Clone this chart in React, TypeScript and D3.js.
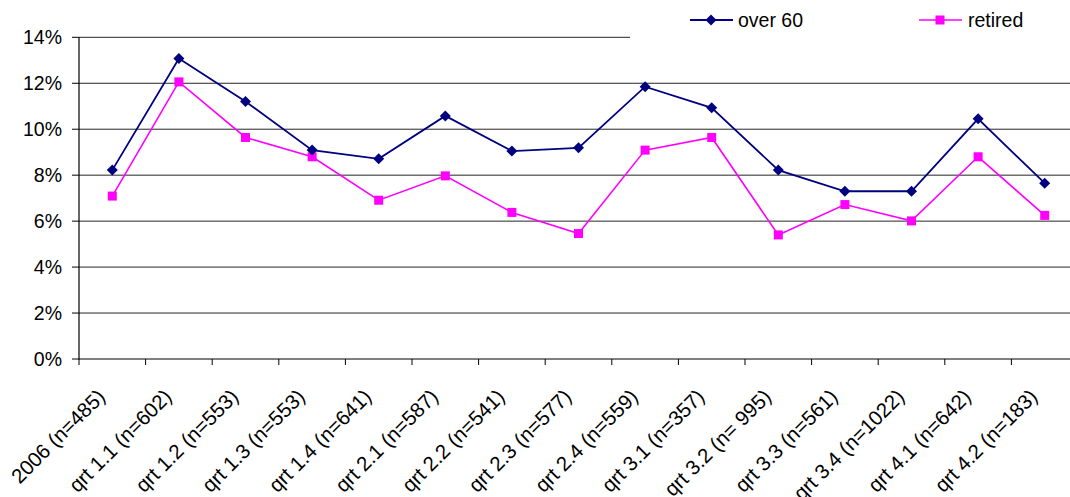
import React from "react";
import * as d3 from "d3";

const categories = [
  "2006 (n=485)",
  "qrt 1.1 (n=602)",
  "qrt 1.2 (n=553)",
  "qrt 1.3 (n=553)",
  "qrt 1.4 (n=641)",
  "qrt 2.1 (n=587)",
  "qrt 2.2 (n=541)",
  "qrt 2.3 (n=577)",
  "qrt 2.4 (n=559)",
  "qrt 3.1 (n=357)",
  "qrt 3.2 (n= 995)",
  "qrt 3.3 (n=561)",
  "qrt 3.4 (n=1022)",
  "qrt 4.1 (n=642)",
  "qrt 4.2 (n=183)",
];
const over60 = [8.22, 13.08, 11.21, 9.09, 8.71, 10.58, 9.05, 9.19, 11.85, 10.93, 8.22, 7.3, 7.3, 10.45, 7.65];
const retired = [7.09, 12.06, 9.64, 8.8, 6.91, 7.97, 6.38, 5.46, 9.09, 9.64, 5.4, 6.72, 6.01, 8.8, 6.25];
const yTicks = [0, 2, 4, 6, 8, 10, 12, 14];
const seriesNames = ["over 60", "retired"];

const W = 1070;
const H = 497;
const FONT = "'Liberation Sans', Arial, sans-serif";
const NAVY = "#000080";
const MAGENTA = "#FF00FF";

export default function App() {
  const x = d3.scaleBand<string>().domain(categories).range([79, 1078]);
  const y = d3.scaleLinear().domain([0, 14]).range([359, 37.3]);
  const cx = (i: number) => (x(categories[i]) as number) + x.bandwidth() / 2;
  const line = d3
    .line<number>()
    .x((_, i) => cx(i))
    .y((d) => y(d));
  const diamond = (px: number, py: number, r: number) =>
    `M${px},${py - r}L${px + r},${py}L${px},${py + r}L${px - r},${py}Z`;
  const fs = 19.5;
  const fsx = 20.5;

  return (
    <svg
      width={W}
      height={H}
      style={{ position: "absolute", left: 0, top: 0, background: "#fff" }}
      fontFamily={FONT}
    >
      <rect x={0} y={0} width={W} height={H} fill="#fff" />
      {/* gridlines */}
      {yTicks
        .filter((t) => t > 0)
        .map((t) => (
          <line key={t} x1={79} x2={W} y1={y(t)} y2={y(t)} stroke="#000" strokeWidth={1} opacity={0.85} />
        ))}
      {/* axes */}
      <line x1={79} x2={79} y1={y(14)} y2={y(0) + 0.5} stroke="#000" strokeWidth={1.2} />
      <line x1={79} x2={W} y1={y(0)} y2={y(0)} stroke="#000" strokeWidth={1.2} />
      {yTicks.map((t) => (
        <g key={t}>
          <line x1={72} x2={79} y1={y(t)} y2={y(t)} stroke="#000" strokeWidth={1} />
          <text x={62} y={y(t)} dy="0.35em" textAnchor="end" fontSize={fs} fill="#000">
            {t}%
          </text>
        </g>
      ))}
      {categories.map((c) => (
        <line
          key={c}
          x1={x(c) as number}
          x2={x(c) as number}
          y1={y(0)}
          y2={y(0) + 6}
          stroke="#000"
          strokeWidth={1}
        />
      ))}
      {categories.map((c, i) => (
        <text
          key={"l" + c}
          transform={`translate(${cx(i) - 6},${398}) rotate(-45)`}
          textAnchor="end"
          fontSize={fsx}
          fill="#000"
        >
          {c}
        </text>
      ))}
      {/* series */}
      <path d={line(over60) || ""} fill="none" stroke={NAVY} strokeWidth={1.8} />
      <path d={line(retired) || ""} fill="none" stroke={MAGENTA} strokeWidth={1.6} />
      {retired.map((v, i) => (
        <rect key={"r" + i} x={cx(i) - 4.5} y={y(v) - 4.5} width={9} height={9} fill={MAGENTA} />
      ))}
      {over60.map((v, i) => (
        <path key={"o" + i} d={diamond(cx(i), y(v), 5.5)} fill={NAVY} />
      ))}
      {/* legend */}
      <rect x={630} y={0} width={W - 630} height={40} fill="#fff" />
      <g>
        <line x1={690} x2={733} y1={20} y2={20} stroke={NAVY} strokeWidth={1.8} />
        <path d={diamond(711, 20, 5.5)} fill={NAVY} />
        <text x={738} y={20} dy="0.35em" fontSize={fs} fill="#000">
          {seriesNames[0]}
        </text>
        <line x1={919} x2={962} y1={20} y2={20} stroke={MAGENTA} strokeWidth={1.6} />
        <rect x={940 - 4.5} y={20 - 4.5} width={9} height={9} fill={MAGENTA} />
        <text x={968} y={20} dy="0.35em" fontSize={fs} fill="#000">
          {seriesNames[1]}
        </text>
      </g>
    </svg>
  );
}
